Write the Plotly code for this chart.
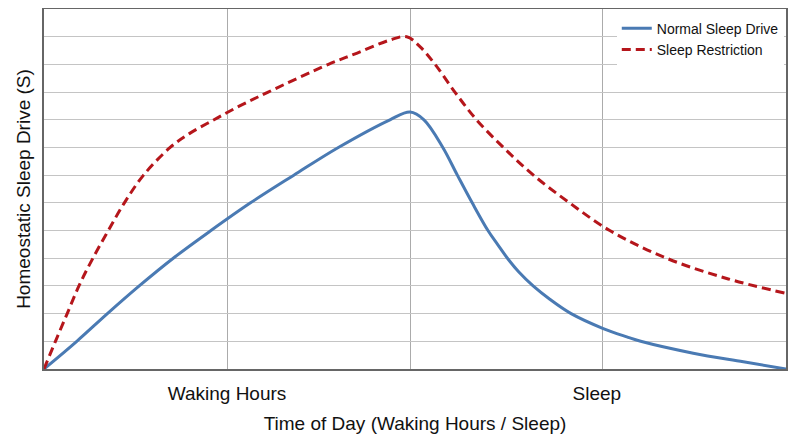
import plotly.graph_objs as go

# hours of the day (0 = waking up)
normal_x = [0, 1.06, 2.05, 3.08, 4.18, 5.40, 6.68, 8.08, 9.52, 11.19, 11.84,
            12.29, 12.90, 13.37, 13.85, 14.36, 14.67, 14.99, 15.36, 15.82, 16.36,
            17.05, 18.07, 18.85, 19.30, 21.0, 22.62, 24]
normal_y = [0, 1, 2, 3, 4, 5, 6, 7, 8, 9, 9.28,
            9, 8, 7, 6, 5, 4.5, 4, 3.5, 3, 2.52,
            2, 1.47, 1.16, 1, 0.57, 0.26, 0]

restrict_x = [0, 0.37, 0.75, 1.13, 1.58, 2.08, 2.60, 3.22, 4.08, 4.70, 5.50, 6.33,
              7.25, 9.20, 10.11, 11.19, 11.73, 12.16, 12.65, 13.29, 13.99, 14.86,
              15.83, 17.0, 18.3, 20.14, 22.08, 24]
restrict_y = [0, 1, 2, 3, 4, 5, 6, 7, 8, 8.5, 9, 9.5,
              10, 11, 11.4, 11.88, 12.0, 11.64, 11, 10, 9, 8,
              7, 6, 5, 4, 3.27, 2.73]

grid_x = [5.95, 11.84, 18.07]
label_x = [5.92, 17.88]
label_text = ['Waking Hours', 'Sleep']

fig = go.Figure()
fig.add_trace(go.Scatter(x=normal_x, y=normal_y, mode='lines',
                         name='Normal Sleep Drive',
                         line=dict(color='#4A7AB3', width=3, shape='spline', smoothing=1)))
fig.add_trace(go.Scatter(x=restrict_x, y=restrict_y, mode='lines',
                         name='Sleep Restriction',
                         line=dict(color='#B5161B', width=3, shape='spline', smoothing=1,
                                   dash='9px,5px')))

fig.update_xaxes(range=[0, 24], tickvals=label_x, ticktext=label_text, ticks='',
                 showgrid=False, automargin=False, ticklabelstandoff=6,
                 minor=dict(tickvals=grid_x, showgrid=True, gridcolor='#ABABAB',
                            gridwidth=1, ticks=''),
                 showline=True, linecolor='#666666', linewidth=1.5, mirror=True,
                 zeroline=False, tickfont=dict(size=19, color='#111111'),
                 title=dict(text='Time of Day (Waking Hours / Sleep)',
                            font=dict(size=19, color='#111111'), standoff=14))
fig.update_yaxes(range=[0, 13], dtick=1, showticklabels=False, ticks='',
                 showgrid=True, gridcolor='#C4C4C4', gridwidth=1, automargin=False,
                 showline=True, linecolor='#666666', linewidth=1.5, mirror=True,
                 zeroline=False,
                 title=dict(text='Homeostatic Sleep Drive (S)',
                            font=dict(size=19, color='#111111'), standoff=7))
# page body adds an 8px offset, so the figure is a bit smaller than the window
fig.update_layout(width=792, height=439,
                  margin=dict(l=36, r=14, t=1, b=78),
                  plot_bgcolor='#FFFFFF', paper_bgcolor='#FFFFFF',
                  font=dict(family='Liberation Sans, Arial, sans-serif'),
                  showlegend=True,
                  legend=dict(x=0.997, y=0.99, xanchor='right', yanchor='top',
                              bgcolor='#FFFFFF', font=dict(size=14, color='#111111'),
                              tracegroupgap=0, itemwidth=30))
fig.write_html("out.html")
